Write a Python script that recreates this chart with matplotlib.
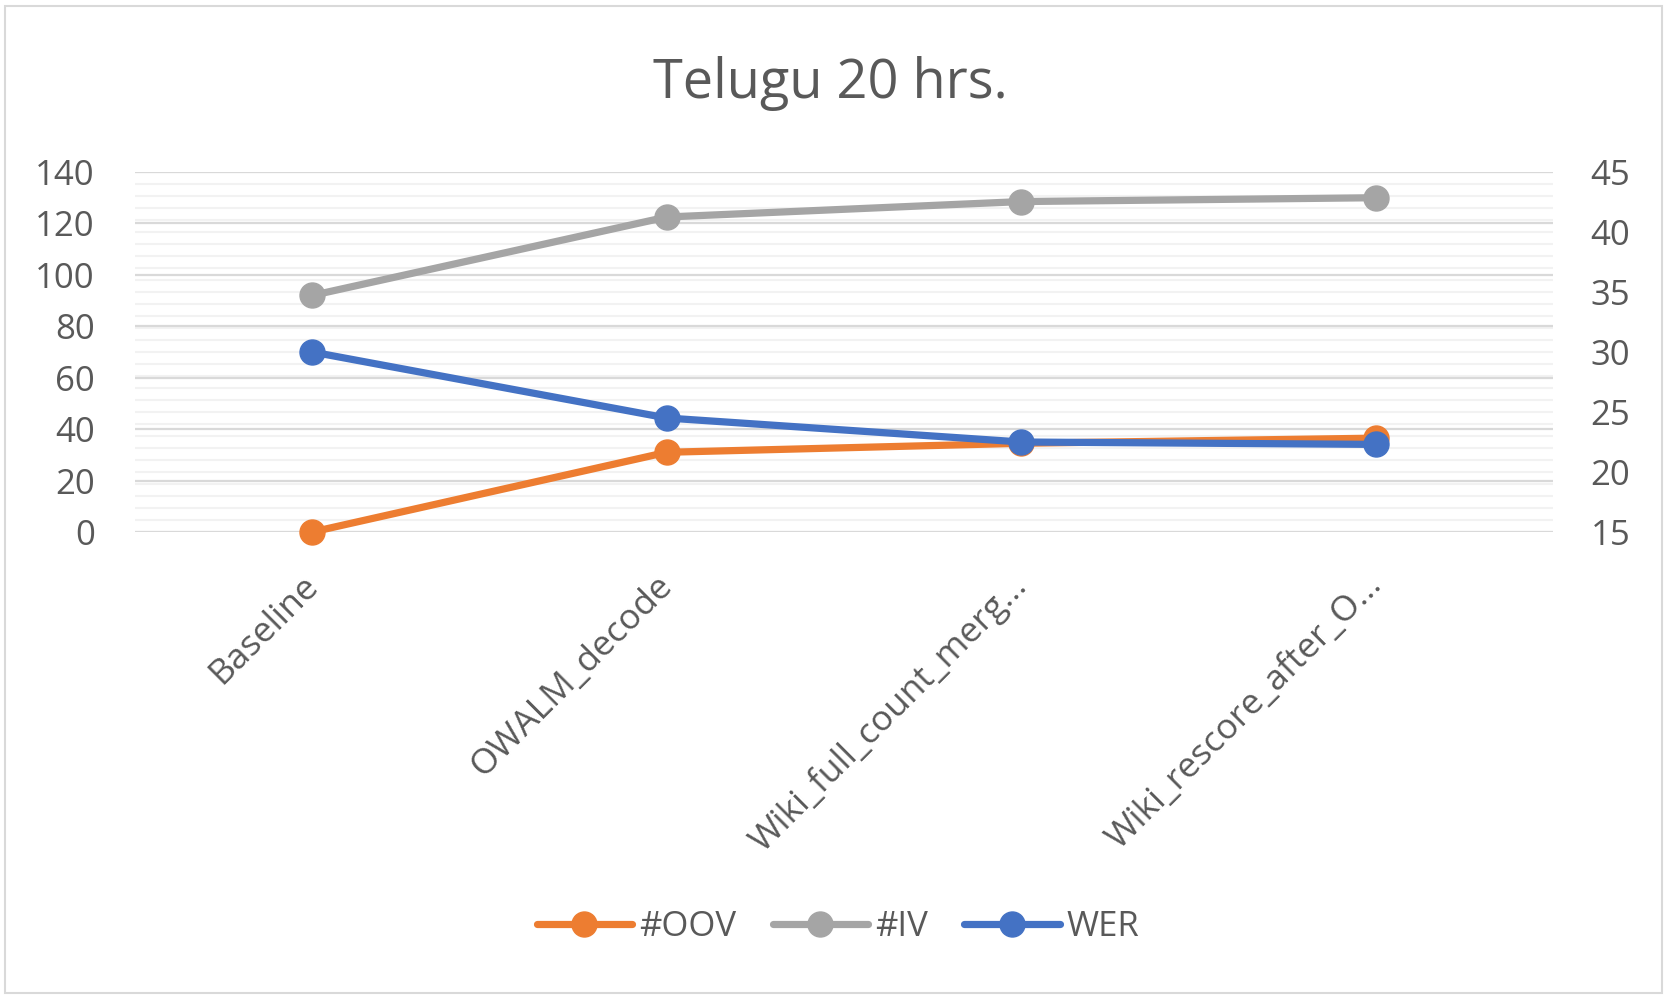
import matplotlib
matplotlib.use('Agg')
import numpy as np
import matplotlib.pyplot as plt
from matplotlib.patches import Rectangle
from matplotlib.transforms import ScaledTranslation

plt.rcParams['font.family'] = ['Open Sans', 'DejaVu Sans']

categories = ['Baseline', 'OWALM_decode', 'Wiki_full_count_merg...', 'Wiki_rescore_after_O...']
oov = [0, 31, 34.5, 36.5]
iv = [92, 122.5, 128.5, 130]
wer = [30.0, 24.5, 22.5, 22.3]

left_ticks = np.arange(0, 141, 20)
right_ticks = np.arange(15, 46, 5)

TEXT = '#595959'
ORANGE = '#ED7D31'
GRAY = '#A5A5A5'
BLUE = '#4472C4'

W, H = 1668, 999
fig = plt.figure(figsize=(W / 100, H / 100), dpi=100)
fig.patches.append(Rectangle((5 / W, 6 / H), 1 - 11 / W, 1 - 12 / H, transform=fig.transFigure,
                             fill=False, edgecolor='#d9d9d9', linewidth=1.5))

ax = fig.add_axes([135 / W, 1 - 532 / H, 1418 / W, 360 / H])
ax2 = ax.twinx()
x = np.arange(len(categories))

ax.set_xlim(-0.5, len(categories) - 0.5)
ax.set_ylim(0, 140)
ax2.set_ylim(15, 45)

# secondary axis gridlines (every 1) drawn on the primary axes so the lines stay on top
for v in np.arange(15, 46, 1):
    ax.axhline((v - 15) / 30 * 140, color='#f2f2f2', linewidth=1.5, zorder=0.5)
for v in left_ticks:
    ax.axhline(v, color='#d9d9d9', linewidth=1.6, zorder=0.6)

style = dict(linewidth=5.2, marker='o', markersize=18, zorder=3, clip_on=False, solid_capstyle='round')
ax.plot(x, oov, color=ORANGE, label='#OOV', **style)
ax.plot(x, iv, color=GRAY, label='#IV', **style)
ax2.plot(x, wer, color=BLUE, label='WER', **style)

for a in (ax, ax2):
    for s in a.spines.values():
        s.set_visible(False)
    a.tick_params(length=0, labelsize=25, labelcolor=TEXT)

ax.set_yticks(left_ticks)
ax.tick_params(axis='y', pad=29)
ax2.set_yticks(right_ticks)
ax2.tick_params(axis='y', pad=27)

ax.set_xticks(x)
ax.set_xticklabels(categories, rotation=45, ha='right', va='top', fontsize=25.5)
ax.tick_params(axis='x', pad=26)
offset = ScaledTranslation(13 / 100, 0, fig.dpi_scale_trans)
for lbl in ax.get_xticklabels():
    lbl.set_transform(lbl.get_transform() + offset)

fig.text(830 / W, 1 - 98 / H, 'Telugu 20 hrs.', ha='center', va='baseline', fontsize=39, color=TEXT)

h1, l1 = ax.get_legend_handles_labels()
h2, l2 = ax2.get_legend_handles_labels()
leg = fig.legend(h1 + h2, l1 + l2, loc='center', bbox_to_anchor=(838 / W, 1 - 927 / H), ncol=3,
                 frameon=False, fontsize=25, handlelength=2.75, handletextpad=0.2, columnspacing=1.05)
for t in leg.get_texts():
    t.set_color(TEXT)

fig.savefig('out.png', dpi=100)
